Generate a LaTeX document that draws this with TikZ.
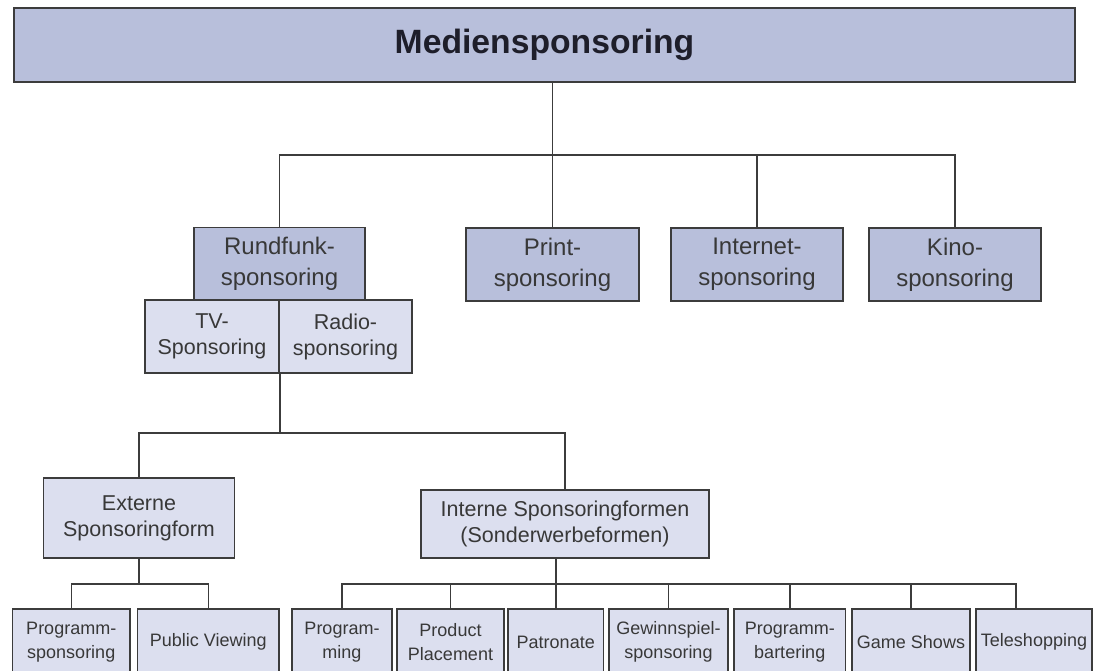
\documentclass[tikz,border=0pt]{standalone}
\usepackage{fontspec}
\setmainfont{Liberation Sans}
\definecolor{boxblue}{HTML}{B8BFDB}
\definecolor{boxlight}{HTML}{DCDFEF}
\definecolor{rimgray}{HTML}{3C3C3C}
\definecolor{textgray}{HTML}{383838}
\definecolor{titleink}{HTML}{1E1E2A}

\begin{document}
\begin{tikzpicture}[x=1pt,y=-1pt,
  box/.style={draw=rimgray,line width=1.8pt,align=center,inner sep=0pt,text=textgray},
  head/.style={box,fill=boxblue,minimum height=73pt,font=\fontsize{24}{31}\selectfont},
  sub/.style={box,fill=boxlight,font=\fontsize{21.5}{26}\selectfont},
  leaf/.style={box,fill=boxlight,minimum height=66pt,font=\fontsize{18}{24}\selectfont},
  conn/.style={draw=rimgray,line width=1.5pt}]
\fill[white] (0,0) rectangle (1093,670);
\useasboundingbox (0,0) rectangle (1093,670);

\node[box,fill=boxblue,minimum width=1061pt,minimum height=74pt,
  font=\bfseries\fontsize{33.7}{40}\selectfont,text=titleink] (medien) at (544.5,45) {Mediensponsoring};

\node[head,minimum width=171pt] (rundfunk) at (279.5,264) {Rundfunk-\\sponsoring};
\node[head,minimum width=173pt] (print) at (552.5,264.5) {Print-\\sponsoring};
\node[head,minimum width=172pt] (internet) at (757,264.5) {Internet-\\sponsoring};
\node[head,minimum width=172pt] (kino) at (955,264.5) {Kino-\\sponsoring};

\node[sub,minimum width=134pt,minimum height=73pt] (tv) at (212,336.5) {TV-\\Sponsoring};
\node[sub,minimum width=133pt,minimum height=73pt] (radio) at (345.5,336.5) {Radio-\\sponsoring};

\node[sub,minimum width=191pt,minimum height=80pt] (extern) at (139,518) {Externe\\Sponsoringform};
\node[sub,minimum width=288pt,minimum height=68pt] (intern) at (565,524) {Interne Sponsoringformen\\(Sonderwerbeformen)};

\node[leaf,minimum width=117.5pt] (progspon) at (71.25,642) {Programm-\\sponsoring};
\node[leaf,minimum width=141.5pt] (public) at (208.25,642) {Public Viewing};
\node[leaf,minimum width=100pt] (programming) at (342,642) {Program-\\ming};
\node[leaf,minimum width=107pt] (product) at (450.5,642) {Product\\Placement};
\node[leaf,minimum width=95.5pt] (patronate) at (555.75,642) {Patronate};
\node[leaf,minimum width=119pt] (gewinn) at (668.5,642) {Gewinnspiel-\\sponsoring};
\node[leaf,minimum width=111.5pt] (bartering) at (789.75,642) {Programm-\\bartering};
\node[leaf,minimum width=118pt] (gameshows) at (911,642) {Game Shows};
\node[leaf,minimum width=116pt] (teleshop) at (1034,642) {Teleshopping};

\coordinate (busA) at (0,155);
\coordinate (busB) at (0,433);
\coordinate (busC) at (0,584);
\coordinate (teledrop) at ([xshift=-18pt]teleshop.north);

\draw[conn] (medien.south -| print.north) -- (print.north);
\draw[conn] (rundfunk.north) |- (busA -| kino.north) -- (kino.north);
\draw[conn] (internet.north) -- (internet.north |- busA);

\draw[conn] (extern.north) |- (busB -| intern.north) -- (intern.north);
\draw[conn] (tv.south east) -- (tv.south east |- busB);

\draw[conn] (progspon.north) |- (busC -| public.north) -- (public.north);
\draw[conn] (extern.south) -- (extern.south |- busC);

\draw[conn] (programming.north) |- (busC -| teledrop) -- (teledrop);
\draw[conn] (intern.south -| patronate.north) -- (patronate.north);
\foreach \n in {product,gewinn,bartering,gameshows}
  \draw[conn] (\n.north) -- (\n.north |- busC);
\end{tikzpicture}
\end{document}
